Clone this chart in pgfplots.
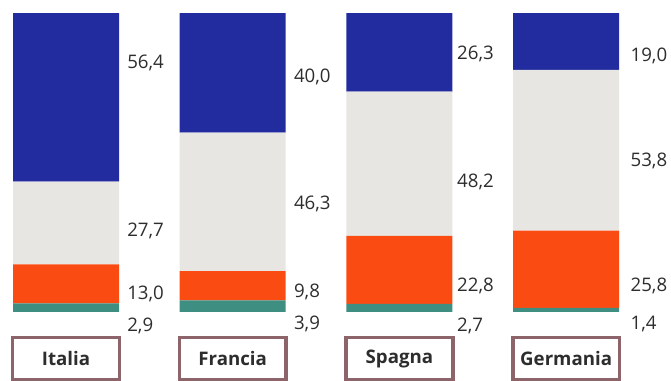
\documentclass[border=0pt]{standalone}
\usepackage{pgfplots}
\pgfplotsset{compat=1.18}
\usepackage{fontspec}
\setmainfont{Open Sans}
\definecolor{cblue}{RGB}{34,44,158}
\definecolor{cgray}{RGB}{231,230,227}
\definecolor{corange}{RGB}{250,76,18}
\definecolor{cteal}{RGB}{62,142,130}
\definecolor{ctext}{RGB}{45,45,45}
\definecolor{cbox}{RGB}{140,100,106}
\tikzset{lbl/.style={anchor=base west, inner sep=0pt, text=ctext, font=\fontsize{14}{16}\selectfont}}
\begin{document}
\begin{tikzpicture}
\path[use as bounding box] (0,-51.75pt) rectangle (503.25pt,234pt);
\begin{axis}[
  at={(0,0)}, anchor=south west,
  scale only axis,
  width=503.25pt, height=234pt,
  xmin=-0.396, xmax=3.629,
  ymin=0, ymax=104.35,
  ybar stacked,
  bar width=79.5pt,
  axis line style={draw=none},
  major tick length=0pt,
  ytick=\empty,
  xtick={0,1,2,3},
  xticklabels={Italia,Francia,Spagna,Germania},
  xticklabel style={draw=cbox, line width=2.6pt, fill=white,
    minimum width=80pt, minimum height=32pt, inner sep=0pt,
    anchor=north, yshift=-17.8pt, font=\fontsize{14}{16}\selectfont\bfseries, text=ctext},
  clip=false,
]
\addplot[fill=cteal, draw=none] coordinates {(0,2.9) (1,3.9) (2,2.7) (3,1.4)};
\addplot[fill=corange, draw=none] coordinates {(0,13.0) (1,9.8) (2,22.8) (3,25.8)};
\addplot[fill=cgray, draw=none] coordinates {(0,27.7) (1,46.3) (2,48.2) (3,53.8)};
\addplot[fill=cblue, draw=none] coordinates {(0,56.4) (1,40.0) (2,26.3) (3,19.0)};
\node[lbl] at (axis cs:0.366,81.6) {56,4};
\node[lbl] at (axis cs:0.366,25.4) {27,7};
\node[lbl] at (axis cs:0.366,4.3) {13,0};
\node[lbl] at (axis cs:0.366,-6.4) {2,9};
\node[lbl] at (axis cs:1.366,76.6) {40,0};
\node[lbl] at (axis cs:1.366,34.4) {46,3};
\node[lbl] at (axis cs:1.366,4.7) {9,8};
\node[lbl] at (axis cs:1.366,-5.7) {3,9};
\node[lbl] at (axis cs:2.345,84.6) {26,3};
\node[lbl] at (axis cs:2.345,41.5) {48,2};
\node[lbl] at (axis cs:2.345,7.0) {22,8};
\node[lbl] at (axis cs:2.345,-6.4) {2,7};
\node[lbl] at (axis cs:3.385,83.9) {19,0};
\node[lbl] at (axis cs:3.385,48.8) {53,8};
\node[lbl] at (axis cs:3.385,7.0) {25,8};
\node[lbl] at (axis cs:3.385,-5.7) {1,4};
\end{axis}
\end{tikzpicture}
\end{document}
